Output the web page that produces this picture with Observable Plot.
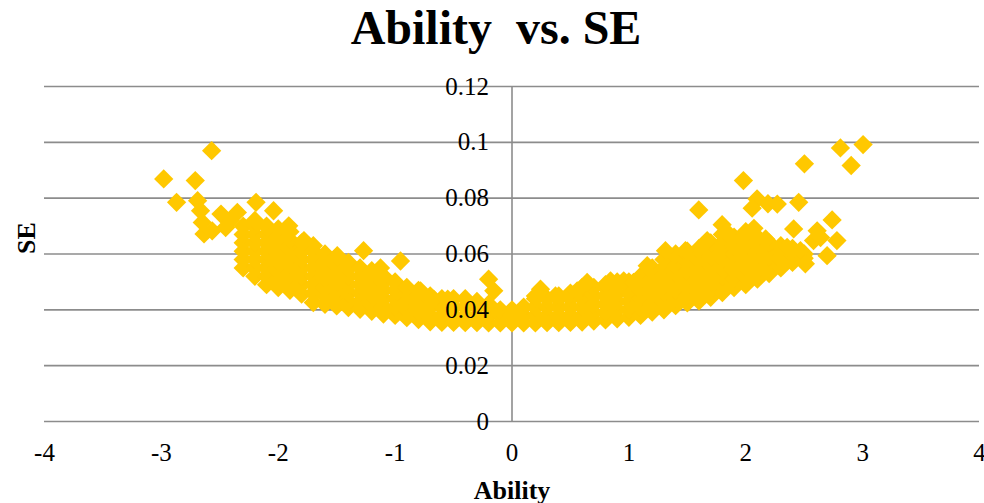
<!DOCTYPE html>
<html>
<head>
<meta charset="utf-8">
<script src="https://cdn.jsdelivr.net/npm/d3@7"></script>
<script src="https://cdn.jsdelivr.net/npm/@observablehq/plot@0.6"></script>
<style>
  html, body { margin: 0; padding: 0; background: #fff; }
  #chart { width: 984px; height: 503px; }
</style>
</head>
<body>
<div id="chart"></div>
<script>
// ---- Data ----
const chartTitle = "Ability  vs. SE";
const xTitle = "Ability";
const yTitle = "SE";
const xTicks = [-4, -3, -2, -1, 0, 1, 2, 3, 4];
const yTicks = [0, 0.02, 0.04, 0.06, 0.08, 0.1, 0.12];

// dense band: ability columns and the SE values seen in each column
const bandAbility = [-2.3, -2.2, -2.1, -2.0, -1.9, -1.8, -1.7, -1.6, -1.5, -1.4, -1.3, -1.2, -1.1, -1.0,
  -0.9, -0.8, -0.7, -0.6, -0.5, -0.4, -0.3, -0.2, -0.1, 0.0, 0.1, 0.2, 0.3, 0.4, 0.5, 0.6, 0.7, 0.8,
  0.9, 1.0, 1.1, 1.2, 1.3, 1.4, 1.5, 1.6, 1.7, 1.8, 1.9, 2.0, 2.1, 2.2, 2.3, 2.4, 2.5];
const bandSE = [
  [0.055, 0.058, 0.061, 0.064, 0.067, 0.070],
  [0.052, 0.055, 0.058, 0.061, 0.064, 0.067, 0.070, 0.072],
  [0.049, 0.052, 0.055, 0.058, 0.061, 0.064, 0.067, 0.070],
  [0.048, 0.051, 0.054, 0.057, 0.060, 0.063, 0.066, 0.069],
  [0.047, 0.050, 0.053, 0.056, 0.059, 0.062, 0.065, 0.068],
  [0.0456, 0.049, 0.052, 0.055, 0.058, 0.061, 0.064],
  [0.0426, 0.046, 0.049, 0.052, 0.055, 0.058, 0.061, 0.063],
  [0.042, 0.045, 0.048, 0.051, 0.054, 0.057, 0.060],
  [0.0414, 0.044, 0.047, 0.050, 0.053, 0.056, 0.059],
  [0.0408, 0.043, 0.046, 0.049, 0.052, 0.055, 0.057],
  [0.0402, 0.043, 0.046, 0.049, 0.052, 0.055],
  [0.0395, 0.042, 0.045, 0.048, 0.051, 0.054],
  [0.0385, 0.041, 0.044, 0.047, 0.050, 0.052],
  [0.038, 0.041, 0.044, 0.047, 0.050],
  [0.0372, 0.040, 0.043, 0.046, 0.048],
  [0.0365, 0.039, 0.042, 0.045, 0.047],
  [0.0357, 0.038, 0.041, 0.044, 0.045],
  [0.0355, 0.038, 0.041, 0.044],
  [0.0355, 0.038, 0.041, 0.044],
  [0.0354, 0.038, 0.041, 0.044],
  [0.0354, 0.038, 0.041, 0.043],
  [0.0353, 0.038, 0.041, 0.042],
  [0.0353, 0.038, 0.040],
  [0.0353, 0.038, 0.040],
  [0.0353, 0.038, 0.041],
  [0.0353, 0.038, 0.041, 0.044, 0.045],
  [0.0354, 0.038, 0.041, 0.044],
  [0.0354, 0.038, 0.041, 0.044, 0.045],
  [0.0355, 0.038, 0.041, 0.044, 0.046],
  [0.0356, 0.038, 0.041, 0.044, 0.047, 0.048],
  [0.036, 0.039, 0.042, 0.045, 0.048],
  [0.0364, 0.039, 0.042, 0.045, 0.048, 0.049],
  [0.0368, 0.040, 0.043, 0.046, 0.049, 0.050],
  [0.0373, 0.040, 0.043, 0.046, 0.049, 0.050],
  [0.038, 0.041, 0.044, 0.047, 0.050, 0.052],
  [0.0392, 0.042, 0.045, 0.048, 0.051, 0.054, 0.055],
  [0.040, 0.043, 0.046, 0.049, 0.052, 0.055, 0.058],
  [0.0415, 0.044, 0.047, 0.050, 0.053, 0.056, 0.059, 0.060],
  [0.0425, 0.045, 0.048, 0.051, 0.054, 0.057, 0.060, 0.061],
  [0.0432, 0.046, 0.049, 0.052, 0.055, 0.058, 0.061, 0.062],
  [0.0445, 0.047, 0.050, 0.053, 0.056, 0.059, 0.062, 0.064],
  [0.0462, 0.049, 0.052, 0.055, 0.058, 0.061, 0.064, 0.067],
  [0.048, 0.051, 0.054, 0.057, 0.060, 0.063, 0.066],
  [0.049, 0.052, 0.055, 0.058, 0.061, 0.064, 0.067, 0.068],
  [0.051, 0.054, 0.057, 0.060, 0.063, 0.066],
  [0.053, 0.056, 0.059, 0.062, 0.064],
  [0.055, 0.058, 0.061, 0.063],
  [0.057, 0.060, 0.062],
  [0.0585, 0.060]
];

// individual points standing out of the band
const outlierAbility = [-2.98, -2.87, -2.71, -2.57, -2.69, -2.665, -2.65, -2.635, -2.565, -2.49, -2.45,
  -2.35, -2.41, -2.19, -2.04, -1.91, -1.78, -1.495, -1.27, -1.125, -0.954, -0.783, -0.67, -0.55, -0.2, -0.156,
  0.244, 0.372, 0.558, 0.643, 0.843, 0.956, 1.04, 1.157, 1.313, 1.484, 1.598, 1.67, 1.798, 1.84, 1.98,
  2.097, 2.055, 2.19, 2.27, 2.453, 2.41, 2.07, 2.17, 2.354, 2.468, 2.51, 2.58, 2.611, 2.64, 2.78, 2.696,
  2.739, 2.502, 2.81, 2.902, 3.004];
const outlierSE = [0.0869, 0.0785, 0.0863, 0.0970, 0.0791, 0.0755, 0.0713, 0.0672, 0.0683, 0.0743, 0.0695,
  0.0749, 0.072, 0.0785, 0.0755, 0.0701, 0.0648, 0.0594, 0.0612, 0.055, 0.0575, 0.0468, 0.0438, 0.0438, 0.051, 0.0468,
  0.0474, 0.045, 0.0468, 0.0498, 0.0504, 0.0504, 0.0498, 0.0558, 0.0612, 0.0612, 0.0758, 0.0648, 0.0705, 0.0677, 0.0863,
  0.0797, 0.0764, 0.078, 0.0779, 0.0785, 0.069, 0.0692, 0.0654, 0.0624, 0.0612, 0.0565, 0.0648, 0.0683, 0.0659, 0.0648, 0.0594,
  0.0722, 0.0923, 0.098, 0.0917, 0.0992];

// ---- Build table ----
const points = [];
bandAbility.forEach((a, i) => bandSE[i].forEach(s => points.push({ability: a, se: s})));
outlierAbility.forEach((a, i) => points.push({ability: a, se: outlierSE[i]}));

const serif = "'Liberation Serif', 'Times New Roman', serif";
const gridColor = "#8c8c8c";
const dotColor = "#FFC800";

const chart = Plot.plot({
  width: 984,
  height: 503,
  marginLeft: 44,
  marginRight: 5,
  marginTop: 86,
  marginBottom: 82,
  style: {fontFamily: serif, background: "#fff", overflow: "visible"},
  x: {domain: [-4, 4], axis: null},
  y: {domain: [0, 0.12], axis: null},
  marks: [
    Plot.ruleY(yTicks, {stroke: gridColor, strokeWidth: 1.6}),
    Plot.ruleX([0], {stroke: gridColor, strokeWidth: 1.6}),
    Plot.dot(points, {x: "ability", y: "se", symbol: "square", rotate: 45, r: 7.7, fill: dotColor, stroke: "none"}),
    // y tick labels next to the vertical axis at x = 0
    Plot.text(yTicks, {x: () => 0, y: d => d, text: d => String(d), textAnchor: "end", dx: -23, fontSize: 25, fill: "#000", lineAnchor: "middle"}),
    // x tick labels below the horizontal axis
    Plot.text(xTicks, {x: d => d, frameAnchor: "bottom", text: d => String(d), textAnchor: "middle", dy: 31, fontSize: 25, fill: "#000", lineAnchor: "middle"}),
    // titles
    Plot.text([chartTitle], {frameAnchor: "top", text: d => d, dx: -16, dy: -58, fontSize: 48, fontWeight: "bold", fill: "#000", lineAnchor: "middle"}),
    Plot.text([xTitle], {frameAnchor: "bottom", text: d => d, dy: 69, fontSize: 26, fontWeight: "bold", fill: "#000", lineAnchor: "middle"}),
    Plot.text([yTitle], {frameAnchor: "left", text: d => d, dx: -18, rotate: -90, fontSize: 26, fontWeight: "bold", fill: "#000", lineAnchor: "middle"})
  ]
});
document.getElementById("chart").appendChild(chart);
</script>
</body>
</html>
